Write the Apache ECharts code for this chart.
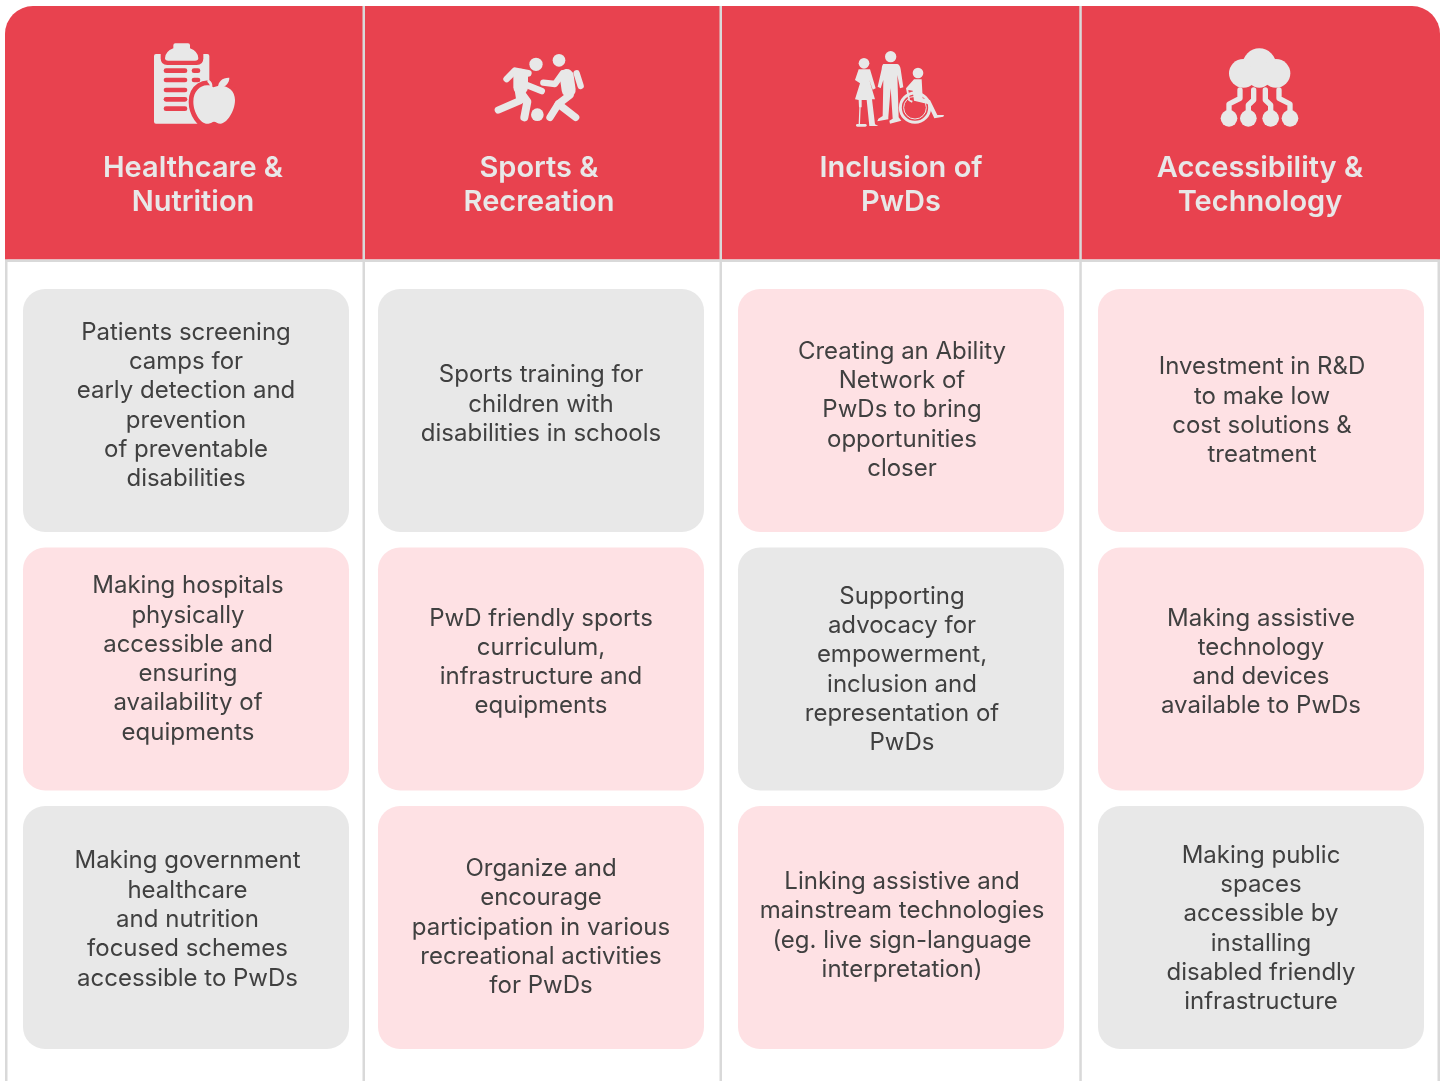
<!DOCTYPE html>
<html><head><meta charset="utf-8">
<style>html,body{margin:0;padding:0;background:#fff}#c{width:1446px;height:1081px}</style>
<script src="https://cdn.jsdelivr.net/npm/echarts@6/dist/echarts.min.js"></script>
</head><body><div id="c"></div>
<script>
const columnTitles = ['Healthcare &\nNutrition','Sports &\nRecreation','Inclusion of\nPwDs','Accessibility &\nTechnology'];
const rowNames = ['Row 1','Row 2','Row 3'];
const healthcareItems = [
 'Patients screening\ncamps for\nearly detection and\nprevention\nof preventable\ndisabilities',
 'Making hospitals\nphysically\naccessible and\nensuring\navailability of\nequipments',
 'Making government\nhealthcare\nand nutrition\nfocused schemes\naccessible to PwDs'];
const sportsItems = [
 'Sports training for\nchildren with\ndisabilities in schools',
 'PwD friendly sports\ncurriculum,\ninfrastructure and\nequipments',
 'Organize and\nencourage\nparticipation in various\nrecreational activities\nfor PwDs'];
const inclusionItems = [
 'Creating an Ability\nNetwork of\nPwDs to bring\nopportunities\ncloser',
 'Supporting\nadvocacy for\nempowerment,\ninclusion and\nrepresentation of\nPwDs',
 'Linking assistive and\nmainstream technologies\n(eg. live sign-language\ninterpretation)'];
const accessibilityItems = [
 'Investment in R&D\nto make low\ncost solutions &\ntreatment',
 'Making assistive\ntechnology\nand devices\navailable to PwDs',
 'Making public\nspaces\naccessible by\ninstalling\ndisabled friendly\ninfrastructure'];
const cellTexts = [healthcareItems, sportsItems, inclusionItems, accessibilityItems];
// 0 = grey card, 1 = pink card
const healthcareTones = [0,1,0];
const sportsTones = [0,1,1];
const inclusionTones = [1,0,1];
const accessibilityTones = [1,1,0];
const cellTones = [healthcareTones, sportsTones, inclusionTones, accessibilityTones];

const RED='#E8424F', LIGHT='#E8E8E8', PINK='#FEE1E4', LINE='#D9D9D9', INK='#404040';
const FONT='Inter';
const TONE_FILL=[LIGHT,PINK];
const colNudge=[5,0,0,0];
const textNudge=[[[0,-4.7],[2,-9.7],[1.5,-7.7]],[[0,-6.2],[0,-6.7],[0,-0.2]],[[1,-0.5],[1,0.8],[1,-1.7]],[[1,0.7],[0,-6.7],[0,1.3]]];
const titleCentres=[193,539,901,1260];

const cells=[];
cellTexts.forEach((c,i)=>c.forEach((t,j)=>cells.push([i,j,cellTones[i][j]])));

function renderCard(params,api){
  const col=api.value(0),row=api.value(1),tone=api.value(2);
  const p=api.coord([col,row]), s=api.size([1,1]);
  const w=s[0]-34,h=s[1]-15.5, cx=p[0]+colNudge[col], cy=p[1];
  const n=textNudge[col][row];
  return {type:'group',children:[
    {type:'rect',shape:{x:cx-w/2,y:cy-h/2,width:w,height:h,r:22},style:{fill:TONE_FILL[tone]}},
    {type:'text',style:{text:cellTexts[col][row],x:cx+n[0],y:cy+n[1],align:'center',verticalAlign:'middle',
      fontFamily:FONT,fontSize:24,fontWeight:400,lineHeight:29.3,fill:INK}}
  ]};
}

const P=(d,extra)=>({type:'path',shape:{pathData:d},style:Object.assign({fill:LIGHT},extra||{})});
const C=(x,y,r)=>({type:'circle',shape:{cx:x,cy:y,r:r},style:{fill:LIGHT}});
const S=(d,w,col)=>P(d,{fill:'none',stroke:col||LIGHT,lineWidth:w,lineCap:'round',lineJoin:'round'});
const listLines=[122,150,180,208,236].map(y=>S('M108 '+y+' H165',14,RED));
const APPLE='M250 172 C225 155 190 175 190 215 C190 250 215 285 235 281 C243 280 247 275 252 275 C258 275 262 281 272 281 C290 280 315 245 315 210 C315 175 280 158 250 172 Z';

const iconsLeft={type:'group',x:130,y:30,scaleX:1/3,scaleY:1/3,children:[
  P('M72 78 Q72 72 78 72 L232 72 Q238 72 238 78 L238 275 Q238 281 232 281 L78 281 Q72 281 72 275 Z'),
  P('M92 60 L92 85 Q92 105 112 105 L200 105 Q220 105 220 85 L220 60 Z',{fill:RED}),
  P('M130 46 Q130 40 136 40 L174 40 Q180 40 180 46 L180 55 Q205 65 205 85 Q205 92 195 92 L115 92 Q105 92 105 85 Q105 65 130 55 Z'),
  ...listLines,
  S('M192 122 H204',14,RED),S('M192 150 H204',14,RED),
  P(APPLE,{stroke:RED,lineWidth:28}),
  P(APPLE),
  P('M264 172 C264 155 278 142 298 143 C298 160 285 175 264 172 Z'),
  S('M243 170 Q244 160 236 154',8),
  // players
  C(1218,103,20),C(1287,91,19),C(1222,254,19),
  S('M1130 147 L1155 122 L1195 130',20),
  S('M1172 138 L1172 172',44),
  S('M1190 165 L1235 183',20),
  S('M1105 240 L1170 212 L1165 180',22),
  S('M1170 185 L1192 215 L1183 262',24),
  S('M1240 158 L1275 162 L1298 130',19),
  S('M1340 130 L1352 168',19),
  S('M1310 138 L1316 180',42),
  S('M1320 195 L1285 222 L1260 262',22),
  S('M1285 222 L1337 262',22)
]};
const iconsRight={type:'group',x:840,y:30,scaleX:1/3,scaleY:1/3,children:[
  // woman
  C(72,100,16),
  P('M56 118 L90 118 L107 175 L98 179 L88 150 L105 208 L96 208 L105 283 L115 288 L88 288 L80 210 L65 210 L65 232 L57 232 L56 210 L45 208 L60 160 L45 150 Z'),
  S('M60 232 L58 282',4),S('M52 286 H76',8),
  // man
  C(152,80,17),
  P('M130 102 L172 102 Q180 104 182 118 L190 172 L180 175 L172 135 L176 262 L184 272 L150 281 L148 272 L158 266 L152 175 L145 262 L145 268 L112 274 L115 266 L128 258 L130 150 L122 175 L113 170 L125 118 Q126 105 130 102 Z'),
  // wheelchair
  C(234,129,16),
  P('M222 148 L245 148 L248 205 L270 210 L292 255 L312 255 L310 260 L283 265 L263 222 L222 212 L218 182 L205 180 L210 210 L218 212 L216 218 L205 212 L198 175 Z'),
  {type:'circle',shape:{cx:225,cy:233,r:44},style:{fill:'none',stroke:LIGHT,lineWidth:9}},
  {type:'circle',shape:{cx:225,cy:233,r:34},style:{fill:'none',stroke:LIGHT,lineWidth:3}},
  // cloud
  C(1258,105,50),C(1210,130,43),C(1308,130,43),C(1258,135,38),
  S('M1200 180 L1200 205 L1167 222 L1167 245',16),
  S('M1241 180 L1241 210 L1225 225 L1225 245',16),
  S('M1276 180 L1276 210 L1292 225 L1292 245',16),
  S('M1317 180 L1317 205 L1350 222 L1350 245',16),
  C(1167,265,25),C(1225,265,25),C(1292,265,25),C(1350,265,25)
]};

const frame=[
  {type:'rect',shape:{x:5,y:40,width:2.5,height:1041},style:{fill:LINE}},
  {type:'rect',shape:{x:1437.5,y:40,width:2.5,height:1041},style:{fill:LINE}},
  {type:'rect',shape:{x:5,y:6,width:1435,height:253.5,r:[28,28,0,0]},style:{fill:RED}},
  {type:'rect',shape:{x:5,y:259.5,width:1435,height:2.5},style:{fill:LINE}},
  ...[362.5,719.5,1079.3].map(x=>({type:'rect',shape:{x:x,y:6,width:2.5,height:1075},style:{fill:LINE}}))
];
const titles=columnTitles.map((t,i)=>({type:'text',style:{text:t,x:titleCentres[i],y:185.5,align:'center',verticalAlign:'middle',
  fontFamily:FONT,fontSize:29,fontWeight:600,lineHeight:34,fill:LIGHT}}));

const chart=echarts.init(document.getElementById('c'),null,{renderer:'canvas'});
chart.setOption({
  animation:false,
  backgroundColor:'#fff',
  grid:{left:1,top:281.25,width:1440,height:775.5,containLabel:false},
  xAxis:{type:'category',data:columnTitles,show:false},
  yAxis:{type:'category',data:rowNames,inverse:true,show:false},
  graphic:{elements:[...frame,...titles]},
  series:[
    {type:'custom',data:cells,renderItem:renderCard,silent:true,encode:{x:0,y:1},z:2},
    {type:'custom',data:[[0,0]],silent:true,clip:false,z:10,
     renderItem:()=>({type:'group',children:[iconsLeft,iconsRight]})}
  ]
});
</script></body></html>
